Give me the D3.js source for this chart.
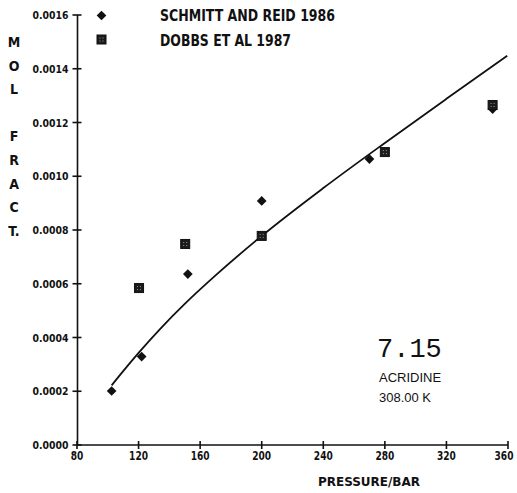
<!DOCTYPE html>
<html>
<head>
<meta charset="utf-8">
<script src="https://cdn.jsdelivr.net/npm/d3@7"></script>
<style>
  html, body { margin: 0; padding: 0; background: #fff; }
  svg { display: block; }
  .plot-font { font-family: "DejaVu Sans Condensed", "DejaVu Sans", sans-serif; font-weight: bold; font-stretch: condensed; }
</style>
</head>
<body>
<svg id="chart" width="517" height="493"></svg>
<script>
// Axis ticks
const pressureTicks = [80, 120, 160, 200, 240, 280, 320, 360];
const fractionTicks = [0, 0.0002, 0.0004, 0.0006, 0.0008, 0.0010, 0.0012, 0.0014, 0.0016];

// Schmitt and Reid 1986 (diamonds)
const schmittPressure = [102.5, 122, 152, 200, 270, 350];
const schmittFraction = [0.000201, 0.000329, 0.000636, 0.000908, 0.001064, 0.00125];

// Dobbs et al 1987 (squares)
const dobbsPressure = [120.3, 150.3, 200, 280, 350];
const dobbsFraction = [0.000584, 0.000748, 0.000778, 0.00109, 0.001265];

// Correlation curve
const fitPressure = [102.5, 110, 120, 135, 150, 170, 200, 240, 280, 320, 359.5];
const fitFraction = [0.000222, 0.000275, 0.000343, 0.000438, 0.000525, 0.000631, 0.000778, 0.000956, 0.001124, 0.001288, 0.001448];

const legendLabels = ["SCHMITT AND REID 1986", "DOBBS ET AL 1987"];
const yTitleLetters = ["M", "O", "L", "", "F", "R", "A", "C", "T."];
const xTitle = "PRESSURE/BAR";
const panelNumber = "7.15";
const compoundName = "ACRIDINE";
const temperatureLabel = "308.00 K";

const svg = d3.select("#chart");
svg.append("rect").attr("width", 517).attr("height", 493).attr("fill", "#fff");

const x = d3.scaleLinear().domain([80, 360]).range([77, 508]);
const y = d3.scaleLinear().domain([0, 0.0016]).range([445, 15]);

const ink = "#111";

// Axes: ticks cross the axis line on both sides
const xAxis = svg.append("g").attr("transform", "translate(0,445)");
xAxis.append("line").attr("x1", x(80)).attr("x2", x(360)).attr("stroke", ink).attr("stroke-width", 1.6);
xAxis.selectAll("line.tick").data(pressureTicks).join("line")
  .attr("class", "tick")
  .attr("x1", d => x(d)).attr("x2", d => x(d))
  .attr("y1", -4).attr("y2", 4)
  .attr("stroke", ink).attr("stroke-width", 1.6);
xAxis.selectAll("text").data(pressureTicks).join("text")
  .attr("class", "plot-font")
  .attr("x", d => Math.min(x(d), 504))
  .attr("y", 14.5)
  .attr("text-anchor", "middle")
  .attr("font-size", 11.5)
  .attr("textLength", d => String(d).length * 6.3)
  .attr("lengthAdjust", "spacingAndGlyphs")
  .attr("fill", ink)
  .text(d => d);

const yAxis = svg.append("g").attr("transform", "translate(77.5,0)");
yAxis.append("line").attr("y1", y(0)).attr("y2", y(0.0016)).attr("stroke", ink).attr("stroke-width", 1.6);
yAxis.selectAll("line.tick").data(fractionTicks).join("line")
  .attr("class", "tick")
  .attr("y1", d => y(d)).attr("y2", d => y(d))
  .attr("x1", -5).attr("x2", 4)
  .attr("stroke", ink).attr("stroke-width", 1.6);
yAxis.selectAll("text").data(fractionTicks).join("text")
  .attr("class", "plot-font")
  .attr("x", -9).attr("y", d => y(d) + 4)
  .attr("text-anchor", "end")
  .attr("font-size", 11)
  .attr("textLength", 36).attr("lengthAdjust", "spacingAndGlyphs")
  .attr("fill", ink)
  .text(d => d3.format(".4f")(d));

// Vertical axis title, one letter per line
svg.append("g").selectAll("text").data(yTitleLetters).join("text")
  .attr("class", "plot-font")
  .attr("x", 14).attr("y", (d, i) => 47 + i * 23.6)
  .attr("text-anchor", "middle")
  .attr("font-size", 14)
  .attr("fill", ink)
  .text(d => d);

// Horizontal axis title
svg.append("text")
  .attr("class", "plot-font")
  .attr("x", 318).attr("y", 486)
  .attr("font-size", 13)
  .attr("textLength", 102).attr("lengthAdjust", "spacingAndGlyphs")
  .attr("fill", ink)
  .text(xTitle);

// Correlation curve
const fitData = fitPressure.map((p, i) => [p, fitFraction[i]]);
svg.append("path")
  .datum(fitData)
  .attr("fill", "none")
  .attr("stroke", ink)
  .attr("stroke-width", 1.8)
  .attr("stroke-linejoin", "round")
  .attr("d", d3.line().x(d => x(d[0])).y(d => y(d[1])).curve(d3.curveMonotoneX));

// Marker drawing helpers
function drawDiamond(g, cx, cy) {
  g.append("path")
    .attr("d", d3.symbol().type(d3.symbolDiamond2 || d3.symbolDiamond).size(60)())
    .attr("transform", `translate(${cx},${cy})`)
    .attr("fill", ink);
}
function drawSquare(g, cx, cy) {
  const s = 9;
  const sq = g.append("g").attr("transform", `translate(${cx},${cy})`);
  sq.append("rect").attr("x", -s / 2).attr("y", -s / 2).attr("width", s).attr("height", s)
    .attr("fill", "#1b1b1b").attr("stroke", ink).attr("stroke-width", 1);
  sq.append("path").attr("d", "M-2,-1.5h1M1,-1.5h1M-2,1.5h1M1,1.5h1")
    .attr("stroke", "#9a9a9a").attr("stroke-width", 1);
}

const marks = svg.append("g");
schmittPressure.forEach((p, i) => drawDiamond(marks, x(p), y(schmittFraction[i])));
dobbsPressure.forEach((p, i) => drawSquare(marks, x(p), y(dobbsFraction[i])));

// Legend
const legend = svg.append("g");
drawDiamond(legend, 101.5, 15.5);
drawSquare(legend, 101.5, 39.5);
legend.selectAll("text").data(legendLabels).join("text")
  .attr("class", "plot-font")
  .attr("x", 160).attr("y", (d, i) => 21 + i * 24.5)
  .attr("font-size", 15)
  .attr("textLength", (d, i) => i === 0 ? 175 : 131)
  .attr("lengthAdjust", "spacingAndGlyphs")
  .attr("fill", ink)
  .text(d => d);

// Panel annotation
svg.append("text")
  .attr("x", 377).attr("y", 357)
  .attr("font-family", "'Liberation Mono', 'DejaVu Sans Mono', monospace")
  .attr("font-size", 27)
  .attr("fill", ink)
  .text(panelNumber);
svg.append("text")
  .attr("x", 379).attr("y", 381.5)
  .attr("font-family", "'Liberation Sans', Arial, sans-serif")
  .attr("font-size", 13)
  .attr("fill", ink)
  .text(compoundName);
svg.append("text")
  .attr("x", 379).attr("y", 402)
  .attr("font-family", "'Liberation Sans', Arial, sans-serif")
  .attr("font-size", 13)
  .attr("fill", ink)
  .text(temperatureLabel);
</script>
</body>
</html>
